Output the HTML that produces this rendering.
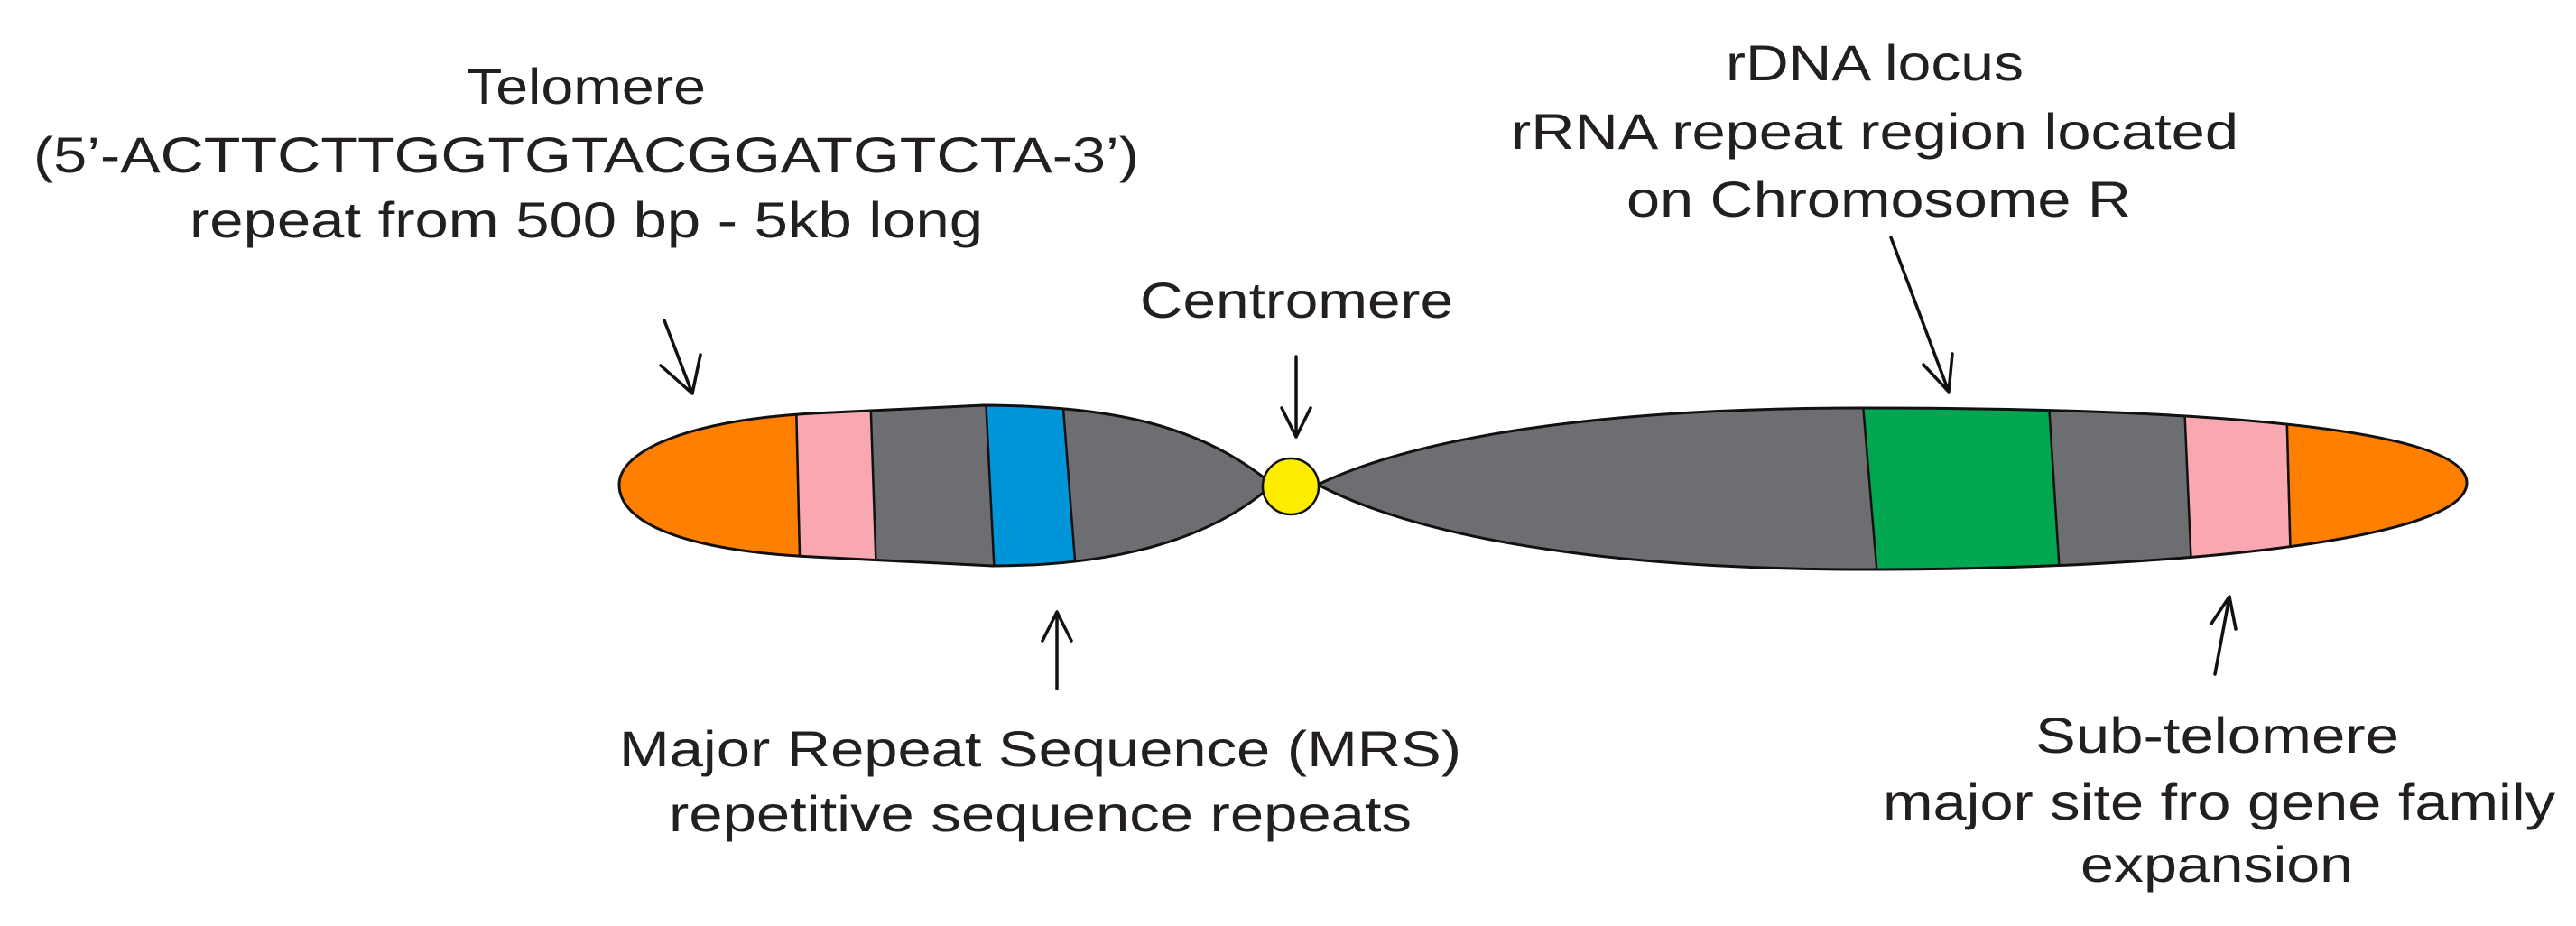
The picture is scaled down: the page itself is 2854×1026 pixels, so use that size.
<!DOCTYPE html>
<html><head><meta charset="utf-8"><style>html,body{margin:0;padding:0;background:#fff}svg{display:block}</style></head>
<body>
<svg width="2854" height="1026" viewBox="0 0 2854 1026" xmlns="http://www.w3.org/2000/svg">
<defs>
<clipPath id="L"><path d="M1410,537 C1330,470 1230,450 1090,449 L900,458 C760,466 686,500 686,537 C686,580 760,610 900,617 L1100,627 C1230,627 1340,600 1410,537 Z"/></clipPath>
<clipPath id="R"><path d="M1460,537 C1600,470 1850,452 2061,452 C2400,452 2733,470 2733,535 C2733,600 2400,630 2085,631 C1850,632 1600,610 1460,537 Z"/></clipPath>
</defs>
<g stroke="#111" stroke-width="2.5" stroke-linejoin="round">
<g clip-path="url(#L)">
<rect x="600" y="400" width="900" height="300" fill="#6d6e71"/>
<polygon points="600,400 881,400 888,700 600,700" fill="#ff7f00"/>
<polygon points="881,400 963,400 973,700 888,700" fill="#f9a7b0"/>
<polygon points="1090,400 1174,400 1197,700 1105,700" fill="#0094d9"/>
</g>
<path d="M1410,537 C1330,470 1230,450 1090,449 L900,458 C760,466 686,500 686,537 C686,580 760,610 900,617 L1100,627 C1230,627 1340,600 1410,537 Z" fill="none" stroke-width="3"/>
<g clip-path="url(#R)">
<rect x="1440" y="400" width="1340" height="300" fill="#6d6e71"/>
<polygon points="2060,400 2267,400 2286,700 2085,700" fill="#00a650"/>
<polygon points="2418,400 2532,400 2540,700 2431,700" fill="#f9a7b0"/>
<polygon points="2532,400 2800,400 2800,700 2540,700" fill="#ff7f00"/>
</g>
<path d="M1460,537 C1600,470 1850,452 2061,452 C2400,452 2733,470 2733,535 C2733,600 2400,630 2085,631 C1850,632 1600,610 1460,537 Z" fill="none" stroke-width="3"/>
<ellipse cx="1430" cy="539" rx="31" ry="31" fill="#ffed00"/>
</g>
<g stroke="#111" stroke-width="3.5" fill="none" stroke-linecap="round" stroke-linejoin="round">
<path d="M736,355 L767,436 M732,405 L767,436 L776,393"/>
<path d="M1436,395 L1436,484 M1420,452 L1436,484 L1452,452"/>
<path d="M2095,263 L2159,434 M2131,404 L2159,434 L2163,392"/>
<path d="M1171,763 L1171,678 M1155,710 L1171,678 L1187,710"/>
<path d="M2454,747 L2470,661 M2450,691 L2470,661 L2477,697"/>
</g>
<g font-family="Liberation Sans, Arial, sans-serif" font-size="56" fill="#231f20">
<text x="517" y="115" textLength="265" lengthAdjust="spacingAndGlyphs">Telomere</text>
<text x="37" y="191" textLength="1225" lengthAdjust="spacingAndGlyphs">(5’-ACTTCTTGGTGTACGGATGTCTA-3’)</text>
<text x="210" y="263" textLength="879" lengthAdjust="spacingAndGlyphs">repeat from 500 bp - 5kb long</text>
<text x="1912" y="89" textLength="330" lengthAdjust="spacingAndGlyphs">rDNA locus</text>
<text x="1674" y="165" textLength="806" lengthAdjust="spacingAndGlyphs">rRNA repeat region located</text>
<text x="1802" y="240" textLength="559" lengthAdjust="spacingAndGlyphs">on Chromosome R</text>
<text x="1263" y="352" textLength="347" lengthAdjust="spacingAndGlyphs">Centromere</text>
<text x="686" y="849" textLength="933" lengthAdjust="spacingAndGlyphs">Major Repeat Sequence (MRS)</text>
<text x="741" y="921" textLength="823" lengthAdjust="spacingAndGlyphs">repetitive sequence repeats</text>
<text x="2255" y="834" textLength="403" lengthAdjust="spacingAndGlyphs">Sub-telomere</text>
<text x="2086" y="908" textLength="745" lengthAdjust="spacingAndGlyphs">major site fro gene family</text>
<text x="2305" y="977" textLength="302" lengthAdjust="spacingAndGlyphs">expansion</text>
</g>
</svg>
</body></html>
